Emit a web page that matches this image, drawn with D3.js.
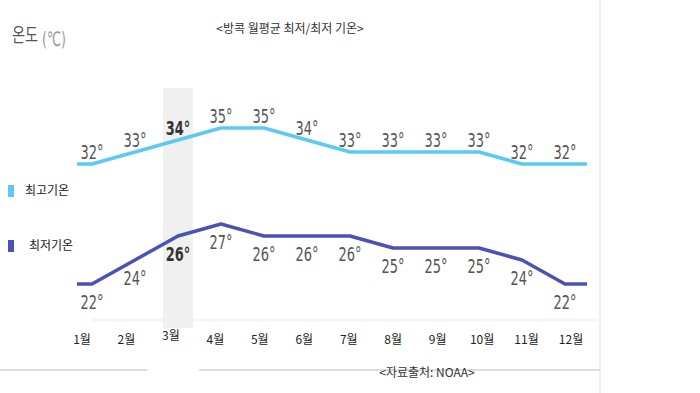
<!DOCTYPE html>
<html>
<head>
<meta charset="utf-8">
<script src="https://cdn.jsdelivr.net/npm/d3@7"></script>
<style>
  body { margin: 0; background: #fff; }
  text { font-family: "Noto Sans CJK KR", "Noto Sans", sans-serif; }
</style>
</head>
<body>
<svg id="chart" width="700" height="393"></svg>
<script>
"use strict";

// Data
const months = ["1월", "2월", "3월", "4월", "5월", "6월", "7월", "8월", "9월", "10월", "11월", "12월"];
const highs = [32, 33, 34, 35, 35, 34, 33, 33, 33, 33, 32, 32];
const lows = [22, 24, 26, 27, 26, 26, 26, 25, 25, 25, 24, 22];
const series = [
  { name: "최고기온", values: highs, color: "#5cc8f4" },
  { name: "최저기온", values: lows, color: "#4a53b5" }
];
const highlight = 2; // 3월
const title = "<방콕 월평균 최저/최저 기온>";
const source = "<자료출처: NOAA>";

const svg = d3.select("#chart");

const x = d3.scaleLinear().domain([0, months.length - 1]).range([92, 565]);
const y = d3.scaleLinear().domain([22, 35]).range([284, 128]);
const xMonth = d3.scaleLinear().domain([0, months.length - 1]).range([82, 571]);

const narrow = "'Liberation Sans Narrow', 'DejaVu Sans Condensed', sans-serif";

// frame lines
svg.append("line")
  .attr("x1", 600).attr("x2", 600).attr("y1", 0).attr("y2", 393)
  .attr("stroke", "#eeeeee").attr("stroke-width", 2);
svg.append("line")
  .attr("x1", 0).attr("x2", 600).attr("y1", 370).attr("y2", 370)
  .attr("stroke", "#dddddd").attr("stroke-width", 2);
svg.append("rect")
  .attr("x", 147).attr("y", 366).attr("width", 52).attr("height", 8)
  .attr("fill", "#fff");
svg.append("line")
  .attr("x1", 92).attr("x2", 600).attr("y1", 320).attr("y2", 320)
  .attr("stroke", "#f6f6f6").attr("stroke-width", 3);

// highlight band
svg.append("rect")
  .attr("x", x(highlight) - 15)
  .attr("y", 88)
  .attr("width", 30)
  .attr("height", 240)
  .attr("fill", "#f0f0f0");

// titles
svg.append("text")
  .attr("transform", "translate(12,42) scale(0.75,1)")
  .attr("font-size", 19).attr("fill", "#555")
  .text("온도");
svg.append("text")
  .attr("transform", "translate(42,46) scale(0.7,1)")
  .style("font-family", narrow)
  .attr("font-size", 20).attr("fill", "#999")
  .text("(℃)");

svg.append("text")
  .attr("x", 290).attr("y", 33)
  .attr("text-anchor", "middle")
  .attr("font-size", 12).attr("fill", "#333")
  .text(title);

svg.append("text")
  .attr("x", 427).attr("y", 377)
  .attr("text-anchor", "middle")
  .attr("font-size", 12).attr("fill", "#333")
  .text(source);

// lines
const line = d3.line()
  .x(d => d[0])
  .y(d => y(d[1]));

series.forEach((s, si) => {
  const pts = s.values.map((v, i) => [x(i), v]);
  pts.unshift([x(0) - 15, s.values[0]]);
  pts.push([x(s.values.length - 1) + 22, s.values[s.values.length - 1]]);

  svg.append("path")
    .attr("d", line(pts))
    .attr("fill", "none")
    .attr("stroke", s.color)
    .attr("stroke-width", 3.5)
    .attr("stroke-linejoin", "round");

  svg.append("g")
    .selectAll("text")
    .data(s.values)
    .enter()
    .append("text")
    .attr("transform", (d, i) => {
      let ty = si === 0 ? y(d) - 5 : y(d) + 25;
      return "translate(" + x(i) + "," + ty + ") scale(0.72,1)";
    })
    .attr("text-anchor", "middle")
    .style("font-family", narrow)
    .attr("font-size", 20)
    .attr("font-weight", (d, i) => i === highlight ? "bold" : "normal")
    .attr("fill", (d, i) => i === highlight ? "#333" : "#555")
    .text(d => d + "°");
});

// month labels
svg.append("g")
  .selectAll("text")
  .data(months)
  .enter()
  .append("text")
  .attr("x", (d, i) => xMonth(i))
  .attr("y", (d, i) => i === highlight ? 340 : 344)
  .attr("text-anchor", "middle")
  .attr("font-size", 12)
  .attr("fill", "#222")
  .text(d => d);

// legend
const legend = svg.append("g")
  .selectAll("g")
  .data(series)
  .enter()
  .append("g")
  .attr("transform", (d, i) => "translate(8," + (185 + i * 55) + ")");

legend.append("rect")
  .attr("width", 6).attr("height", 12)
  .attr("fill", d => d.color);

legend.append("text")
  .attr("x", (d, i) => i === 0 ? 17 : 21)
  .attr("y", 10)
  .attr("font-size", 12)
  .attr("fill", "#222")
  .text(d => d.name);
</script>
</body>
</html>
